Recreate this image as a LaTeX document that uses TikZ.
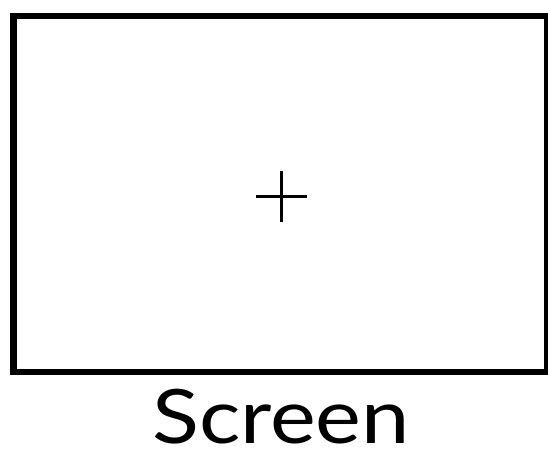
\documentclass[tikz,border=0pt]{standalone}
\usepackage{fontspec}
\setmainfont{Lato}
\usetikzlibrary{positioning}

\begin{document}
\begin{tikzpicture}[
  x=1pt, y=-1pt,
  screenbox/.style={draw=black,line width=6.5pt,minimum width=533.5pt,minimum height=356pt,inner sep=0pt,outer sep=0pt},
  crosshair/.style={line width=3.5pt},
  lbl/.style={font=\fontsize{75}{75}\selectfont,inner sep=0pt,anchor=base,xscale=1.155}
]
\useasboundingbox (0,0) rectangle (548,458);

% Screen frame
\node[screenbox] (screen) at (280.25,194) {};

% Fixation cross
\coordinate (fix) at (281.5,196.5);
\draw[crosshair] ([xshift=-25.5pt]fix) -- ([xshift=25.5pt]fix);
\draw[crosshair] ([yshift=-25.5pt]fix) -- ([yshift=25.5pt]fix);

% Label
\node[lbl] (title) at (281,443) {Screen};
\end{tikzpicture}
\end{document}
